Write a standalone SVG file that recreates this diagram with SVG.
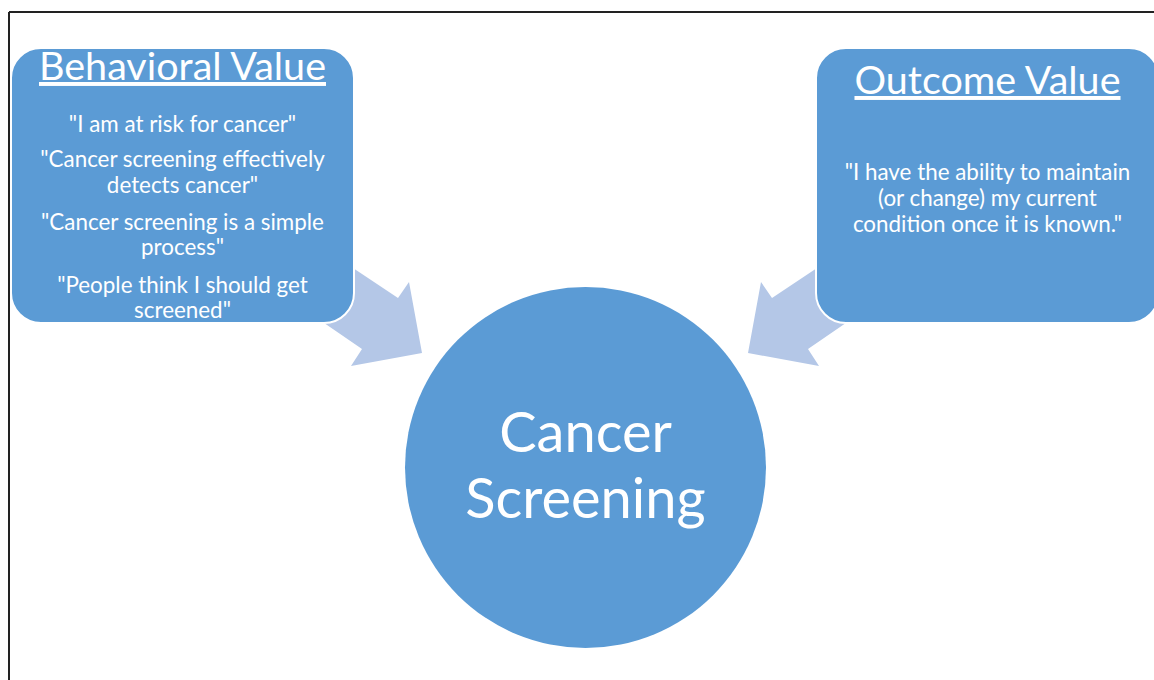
<svg xmlns="http://www.w3.org/2000/svg" width="1154" height="680" viewBox="0 0 1154 680">
<style>
.box{fill:#5b9bd5;stroke:#ffffff;stroke-width:2}
.arrow{fill:#b4c7e7;stroke:none}
.t{font-family:Lato,"Open Sans",sans-serif;fill:#ffffff;text-anchor:middle}
.title{font-size:39.5px;text-decoration:underline}
.body{font-size:22.4px}
.big{font-size:56px}
</style>
<rect x="0" y="0" width="1154" height="680" fill="#ffffff"/>
<g id="frame" stroke="#222" stroke-width="2" fill="none">
<line x1="9" y1="12" x2="1154" y2="12"/>
<line x1="9" y1="12" x2="9" y2="680"/>
</g>
<g id="connectors">
<polygon class="arrow" points="323,248 398,298 409,282 422,353 351,366 362,349 295,303"/>
<polygon class="arrow" points="847,248 772,298 761,282 748,353 819,366 808,349 875,303"/>
</g>
<g id="node-behavioral">
<rect class="box" x="11" y="48" width="343" height="275" rx="30" ry="30"/>
<text class="t title" x="182.5" y="80">Behavioral Value</text>
<text class="t body" x="182.5" y="132">"I am at risk for cancer"</text>
<text class="t body" x="182.5" y="167">"Cancer screening effectively</text>
<text class="t body" x="182.5" y="193">detects cancer"</text>
<text class="t body" x="182.5" y="230">"Cancer screening is a simple</text>
<text class="t body" x="182.5" y="255">process"</text>
<text class="t body" x="182.5" y="293">"People think I should get</text>
<text class="t body" x="182.5" y="318">screened"</text>
</g>
<g id="node-outcome">
<rect class="box" x="816" y="48" width="343" height="275" rx="30" ry="30"/>
<text class="t title" x="987.5" y="94">Outcome Value</text>
<text class="t body" x="987.5" y="180">"I have the ability to maintain</text>
<text class="t body" x="987.5" y="206">(or change) my current</text>
<text class="t body" x="987.5" y="232">condition once it is known."</text>
</g>
<g id="node-screening">
<circle cx="585.5" cy="467.5" r="180.5" fill="#5b9bd5"/>
<text class="t big" x="585.5" y="452">Cancer</text>
<text class="t big" x="585.5" y="518">Screening</text>
</g>
</svg>
